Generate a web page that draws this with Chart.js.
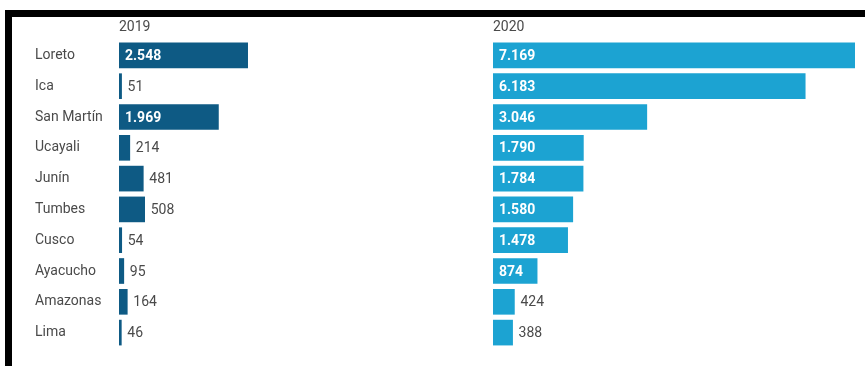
<!DOCTYPE html>
<html>
<head>
<meta charset="utf-8">
<script src="https://cdn.jsdelivr.net/npm/chart.js@4"></script>
<style>
    html, body { margin: 0; padding: 0; background: #fff; }
    body { width: 865px; height: 366px; position: relative; overflow: hidden; }
    .frame {
        position: absolute; left: 5px; top: 10px; width: 860px; height: 356px;
        border-top: 7px solid #000; border-left: 7px solid #000; box-sizing: border-box;
    }
    .panel { position: absolute; top: 0; height: 366px; }
    #chart2019 { left: 0; width: 490px; }
    #chart2020 { left: 480px; width: 385px; }
</style>
</head>
<body>
<div class="frame"></div>
<div class="panel" id="chart2019"><canvas id="c2019"></canvas></div>
<div class="panel" id="chart2020"><canvas id="c2020"></canvas></div>
<script>
const regions = ['Loreto', 'Ica', 'San Martín', 'Ucayali', 'Junín', 'Tumbes', 'Cusco', 'Ayacucho', 'Amazonas', 'Lima'];
const cases2019 = [2548, 51, 1969, 214, 481, 508, 54, 95, 164, 46];
const cases2020 = [7169, 6183, 3046, 1790, 1784, 1580, 1478, 874, 424, 388];

Chart.defaults.font.family = 'Roboto';
Chart.defaults.font.size = 14;
Chart.defaults.color = '#4a4a4a';

// 2548 -> "2.548"
function fmt(n) {
    return String(n).replace(/\B(?=(\d{3})+(?!\d))/g, '.');
}

// value inside the bar when it fits, otherwise just after its end
const valueLabels = {
    id: 'valueLabels',
    afterDatasetsDraw(chart) {
        const ctx = chart.ctx;
        const values = chart.data.datasets[0].data;
        ctx.save();
        ctx.textBaseline = 'middle';
        ctx.textAlign = 'left';
        chart.getDatasetMeta(0).data.forEach((bar, i) => {
            const text = fmt(values[i]);
            ctx.font = 'bold 14px Roboto';
            const w = ctx.measureText(text).width;
            if (bar.x - bar.base > w + 12) {
                ctx.fillStyle = '#fff';
                ctx.fillText(text, bar.base + 6, bar.y + 1);
            } else {
                ctx.font = '14px Roboto';
                ctx.fillStyle = '#4a4a4a';
                ctx.fillText(text, bar.x + 6, bar.y + 1);
            }
        });
        ctx.restore();
    }
};

const maxValue = Math.max(...cases2019, ...cases2020);

function makeChart(id, title, values, color, showNames) {
    return new Chart(document.getElementById(id), {
        type: 'bar',
        data: {
            labels: regions,
            datasets: [{
                data: values,
                backgroundColor: color,
                borderWidth: 0,
                barThickness: 25
            }]
        },
        plugins: [valueLabels],
        options: {
            indexAxis: 'y',
            responsive: true,
            maintainAspectRatio: false,
            animation: false,
            layout: {
                padding: showNames
                    ? { left: 35, right: 9, top: 19, bottom: 18 }
                    : { left: 13, right: 10, top: 19, bottom: 18 }
            },
            plugins: {
                legend: { display: false },
                tooltip: { enabled: false }
            },
            scales: {
                x: {
                    position: 'top',
                    min: 0,
                    max: maxValue,
                    grid: { display: false, drawTicks: false },
                    border: { display: false },
                    ticks: { display: false },
                    title: {
                        display: true,
                        text: title,
                        align: 'start',
                        color: '#4a4a4a',
                        font: { size: 14 },
                        padding: 0
                    },
                    afterFit(scale) { scale.height = 21; }
                },
                y: {
                    display: showNames,
                    grid: { display: false, drawTicks: false },
                    border: { display: false },
                    ticks: { crossAlign: 'far', color: '#4a4a4a', font: { size: 14 } },
                    afterFit(scale) { scale.width = showNames ? 84 : 0; }
                }
            }
        }
    });
}

document.addEventListener('DOMContentLoaded', function() {
    makeChart('c2019', '2019', cases2019, '#0e5a84', true);
    makeChart('c2020', '2020', cases2020, '#1ca3d2', false);
});
</script>
</body>
</html>
